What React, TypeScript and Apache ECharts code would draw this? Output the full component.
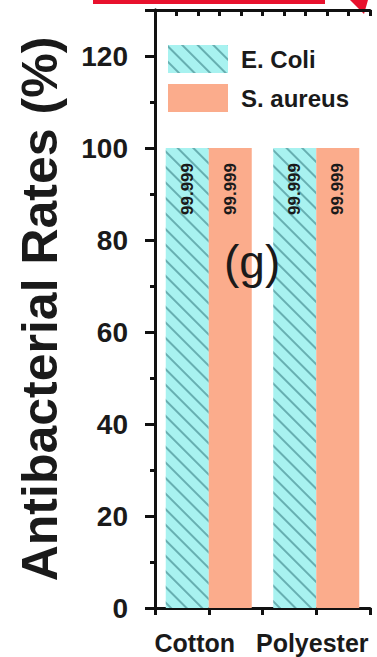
import React, { useEffect, useRef } from "react";
import * as echarts from "echarts";

const categories = ["Cotton", "Polyester"];
const eColi = [99.999, 99.999];
const sAureus = [99.999, 99.999];
const seriesNames = ["E. Coli", "S. aureus"];
const yTitle = "Antibacterial Rates (%)";
const panelLabel = "(g)";

export default function App() {
  const ref = useRef<HTMLDivElement>(null);
  useEffect(() => {
    if (!ref.current) return;
    const chart = echarts.init(ref.current, null, { renderer: "svg" });
    const font = "Liberation Sans, Arial, sans-serif";
    const barLabel = {
      show: true,
      position: "insideTop",
      rotate: 90,
      align: "right",
      verticalAlign: "middle",
      distance: 15,
      fontSize: 17,
      fontWeight: "bold",
      fontFamily: font,
      color: "#1a1a1a",
      formatter: (p: any) => p.value.toFixed(3),
    };
    const xLabelStyle = { fontSize: 25, fontWeight: "bold", fontFamily: font, color: "#1a1a1a" };
    chart.setOption({
      animation: false,
      backgroundColor: "#ffffff",
      grid: { left: 155, right: 7, top: 10, bottom: 49, containLabel: false },
      legend: {
        orient: "vertical",
        left: 163,
        top: 40,
        itemWidth: 60,
        itemHeight: 28,
        itemGap: 11,
        icon: "rect",
        textStyle: { fontSize: 24, fontWeight: "bold", fontFamily: font, color: "#1a1a1a", padding: [0, 0, 0, 8] },
        data: seriesNames,
      },
      title: {
        text: panelLabel,
        left: 219,
        top: 234,
        textStyle: { fontSize: 46, fontWeight: "normal", fontFamily: font, color: "#1a1a1a" },
      },
      xAxis: [
        {
          type: "category",
          data: categories,
          position: "bottom",
          axisLine: { lineStyle: { color: "#111", width: 3 } },
          axisTick: { show: false },
          axisLabel: {
            interval: 0,
            ...xLabelStyle,
            margin: 22,
            formatter: (v: string, i: number) => (i === 0 ? `{a|${v}}` : `{b|${v}}`),
            rich: {
              a: { ...xLabelStyle, padding: [0, 28, 0, 0] },
              b: { ...xLabelStyle, padding: [0, 8, 0, 0] },
            },
          },
        },
        {
          type: "value",
          min: 0,
          max: 4,
          interval: 1,
          position: "bottom",
          gridIndex: 0,
          axisLine: { show: false },
          axisTick: { show: true, inside: false, length: 7, lineStyle: { color: "#111", width: 3 } },
          axisLabel: { show: false },
          splitLine: { show: false },
        },
        {
          type: "value",
          min: 0,
          max: 10,
          interval: 1,
          position: "top",
          gridIndex: 0,
          axisLine: { show: true, lineStyle: { color: "#111", width: 3 } },
          axisTick: { show: true, inside: true, length: 6, lineStyle: { color: "#111", width: 3 } },
          axisLabel: { show: false },
          splitLine: { show: false },
        },
      ],
      yAxis: [
        {
          type: "value",
          min: 0,
          max: 130,
          interval: 20,
          name: yTitle,
          nameLocation: "middle",
          nameGap: 90,
          nameTextStyle: { fontSize: 50, fontWeight: "bold", fontFamily: font, color: "#1a1a1a" },
          axisLine: { show: true, lineStyle: { color: "#111", width: 3 } },
          axisTick: { show: true, inside: false, length: 10, lineStyle: { color: "#111", width: 3 } },
          minorTick: { show: true, splitNumber: 2, length: 5, lineStyle: { color: "#111", width: 3 } },
          axisLabel: { fontSize: 28, fontWeight: "bold", fontFamily: font, color: "#1a1a1a", margin: 27, showMaxLabel: false },
          splitLine: { show: false },
        },
        {
          type: "value",
          min: 0,
          max: 130,
          interval: 20,
          position: "right",
          axisLine: { show: true, lineStyle: { color: "#111", width: 3 } },
          axisTick: { show: true, inside: true, length: 6, lineStyle: { color: "#111", width: 3 } },
          axisLabel: { show: false },
          splitLine: { show: false },
        },
      ],
      series: [
        {
          name: seriesNames[0],
          type: "bar",
          data: eColi,
          xAxisIndex: 0,
          yAxisIndex: 0,
          barGap: "0%",
          barCategoryGap: "20%",
          itemStyle: {
            color: "#a8f2f0",
            decal: {
              symbol: "rect",
              symbolSize: 1,
              color: "rgba(60,130,135,0.6)",
              dashArrayX: [1, 0],
              dashArrayY: [2, 9],
              rotation: Math.PI / 4,
            },
          },
          label: barLabel,
        },
        {
          name: seriesNames[1],
          type: "bar",
          data: sAureus,
          xAxisIndex: 0,
          yAxisIndex: 0,
          barGap: "0%",
          barCategoryGap: "20%",
          itemStyle: { color: "#fbac8c" },
          label: barLabel,
        },
      ],
      graphic: [
        { type: "rect", shape: { x: 93, y: 0, width: 232, height: 4 }, style: { fill: "#e8112d" } },
        { type: "polygon", shape: { points: [[350, 0], [368, 0], [364, 14]] }, style: { fill: "#e8112d" } },
      ],
    });
    return () => chart.dispose();
  }, []);
  return <div ref={ref} style={{ width: 377, height: 657, position: "absolute", left: 0, top: 0 }} />;
}
